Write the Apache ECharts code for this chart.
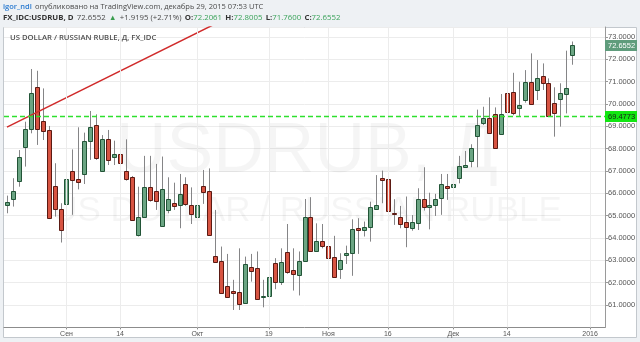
<!DOCTYPE html>
<html><head><meta charset="utf-8">
<script src="https://cdn.jsdelivr.net/npm/echarts@6/dist/echarts.min.js"></script>
<style>html,body{margin:0;padding:0;background:#eef1f4;}#c{width:640px;height:342px;}</style>
</head><body><div id="c"></div>
<script>
// Trading days (MM-DD), Aug 18 2015 .. Jan 5 2016 (last 5 are empty future slots)
const dates = [
'08-18','08-19','08-20','08-21','08-24','08-25','08-26','08-27','08-28','08-31',
'09-01','09-02','09-03','09-04','09-07','09-08','09-09','09-10','09-11','09-14',
'09-15','09-16','09-17','09-18','09-21','09-22','09-23','09-24','09-25','09-28',
'09-29','09-30','10-01','10-02','10-05','10-06','10-07','10-08','10-09','10-12',
'10-13','10-14','10-15','10-16','10-19','10-20','10-21','10-22','10-23','10-26',
'10-27','10-28','10-29','10-30','11-02','11-03','11-04','11-05','11-06','11-09',
'11-10','11-11','11-12','11-13','11-16','11-17','11-18','11-19','11-20','11-23',
'11-24','11-25','11-26','11-27','11-30','12-01','12-02','12-03','12-04','12-07',
'12-08','12-09','12-10','12-11','12-14','12-15','12-16','12-17','12-18','12-21',
'12-22','12-23','12-24','12-25','12-28','12-29','12-30','12-31','01-01','01-04','01-05'];
const opens = [65.48,65.75,66.53,68.09,68.87,70.75,69.26,68.84,66.33,65.29,
65.53,67.02,66.63,66.87,68.35,69.06,66.97,68.42,67.62,67.77,
66.99,66.72,64.11,64.96,66.30,66.12,64.54,65.23,65.59,65.48,
66.42,65.48,64.96,66.33,66.12,63.20,62.99,61.87,61.65,61.60,
61.08,62.69,62.65,61.37,61.38,62.87,62.01,63.37,62.57,62.35,
62.99,64.96,63.44,63.89,63.66,63.17,62.60,63.25,63.32,64.45,
64.33,64.51,65.30,66.68,66.65,65.11,64.96,64.72,64.48,64.69,
65.74,65.38,65.48,65.78,66.35,66.27,66.68,67.20,67.42,68.57,
69.17,69.39,69.55,68.64,70.48,70.52,69.81,70.21,71.00,70.63,
71.25,70.93,70.03,70.21,70.48,72.2061];
const closes = [65.63,66.11,67.62,68.88,70.48,68.87,68.81,64.89,65.29,64.34,
66.63,66.60,66.50,68.36,68.99,67.57,68.42,67.50,67.77,67.35,
66.63,64.81,64.93,66.30,65.74,65.68,66.18,65.74,65.47,65.96,
65.51,65.07,65.48,66.08,64.14,62.92,61.57,61.38,61.57,61.08,
62.83,62.50,61.26,61.39,62.25,62.01,62.92,62.47,62.40,62.99,
64.96,63.44,63.87,63.65,63.14,62.28,63.02,63.32,64.39,64.36,
64.48,65.41,65.48,66.60,65.23,65.05,64.66,64.48,64.74,65.75,
65.38,65.47,65.74,66.41,66.27,66.42,67.23,67.27,68.02,69.06,
69.39,68.72,68.02,69.55,69.61,69.58,69.96,71.00,70.03,71.15,
70.93,69.46,69.58,70.48,70.74,72.6552];
const lows = [65.11,65.41,66.30,67.20,68.69,68.17,68.39,64.85,64.96,63.80,
62.65,65.04,66.18,66.42,67.50,67.50,66.97,67.27,67.27,67.02,
66.57,64.78,64.07,64.93,65.63,65.26,64.51,65.11,65.26,64.44,
65.44,64.63,64.74,65.53,64.10,62.90,61.55,61.36,60.78,60.78,
61.05,62.05,61.24,60.90,61.01,61.71,61.90,62.40,61.65,61.43,
62.95,63.40,63.40,63.54,62.87,62.26,62.17,62.84,62.31,63.29,
64.07,63.84,65.26,65.56,65.11,64.59,64.44,63.59,64.33,64.36,
65.23,64.39,64.99,65.04,65.71,66.08,66.45,67.17,67.17,67.17,
69.06,68.70,68.00,68.62,69.06,69.50,69.46,70.06,70.00,70.18,
70.63,69.44,68.54,68.99,69.58,71.76];
const highs = [65.90,66.68,67.94,69.21,71.57,71.49,70.70,69.02,67.35,65.56,
67.05,67.97,68.96,68.72,69.69,69.54,68.61,68.84,68.36,68.09,
68.42,66.78,66.30,67.68,67.68,67.32,67.65,66.72,66.48,66.87,
66.72,66.27,66.60,67.05,67.12,65.26,63.62,63.29,62.13,63.54,
63.17,63.29,63.40,62.13,62.50,63.10,63.54,64.63,63.54,63.40,
65.75,65.83,64.66,64.63,64.59,64.10,63.32,63.66,64.84,64.89,
64.74,65.63,66.82,67.02,67.91,65.74,65.44,65.86,65.03,66.23,
67.17,66.03,65.98,66.87,66.87,66.87,67.68,67.90,68.20,69.75,
69.88,70.30,69.85,70.45,71.37,71.40,71.00,71.52,72.27,71.97,
71.82,71.15,70.75,70.93,72.39,72.8005];
const trendLine = [[0, 68.97], [40, 74.25]];
const supportLevel = 69.4773;
const lastPrice = 72.6552;
const tickDates = ['09-01','09-14','10-01','10-19','11-02','11-16','12-01','12-14','01-01'];
const tickLabels = ['Сен','14','Окт','19','Ноя','16','Дек','14','2016'];

const candleData = opens.map((o, i) => [i, o, closes[i], lows[i], highs[i]]);
const levelData = [[supportLevel, 0], [lastPrice, 1]];
const tickMap = {};
tickDates.forEach((d, k) => { tickMap[d] = tickLabels[k]; });

const chart = echarts.init(document.getElementById('c'), null, {renderer: 'canvas'});
const F = '"Open Sans", "Liberation Sans", sans-serif';
const A = '"Liberation Sans", Arial, sans-serif';
chart.setOption({
  animation: false,
  backgroundColor: 'transparent',
  grid: {left: 4, right: 35, top: 27, bottom: 14.6, containLabel: false},
  xAxis: {
    type: 'category', data: dates, boundaryGap: true,
    axisLine: {show: true, lineStyle: {color: '#8c8c8c', width: 1}},
    axisTick: {show: true, alignWithLabel: true, length: 2, lineStyle: {color: '#8c8c8c'},
      interval: (i, v) => tickMap[v] !== undefined},
    axisLabel: {interval: (i, v) => tickMap[v] !== undefined, formatter: v => tickMap[v] || '',
      fontSize: 7, color: '#555', margin: 3, fontFamily: A},
    splitLine: {show: false}
  },
  yAxis: {
    type: 'value', position: 'right', min: 60, max: 73.45, interval: 1, scale: true,
    axisLine: {show: true, lineStyle: {color: '#9a9a9a'}},
    axisTick: {show: true, length: 3, lineStyle: {color: '#9a9a9a'}},
    axisLabel: {formatter: v => v.toFixed(4), fontSize: 7.5, color: '#555', margin: 3,
      showMinLabel: false, showMaxLabel: false, fontFamily: A},
    splitLine: {show: true, lineStyle: {color: '#ececec', width: 1}}
  },
  graphic: [
    {type: 'rect', z: -10, shape: {x: 3.5, y: 27.5, width: 633, height: 310},
      style: {fill: '#ffffff', stroke: '#c3c8cd', lineWidth: 1}},
    {type: 'text', z: 1, x: 307, y: 153, style: {text: 'USDRUB, Д', font: '70px ' + A,
      fill: 'rgba(0,0,0,0.04)', textAlign: 'center', textVerticalAlign: 'middle'}},
    {type: 'text', z: 1, x: 307, y: 211, style: {text: 'US DOLLAR / RUSSIAN RUBLE', font: '35px ' + A,
      fill: 'rgba(0,0,0,0.04)', textAlign: 'center', textVerticalAlign: 'middle'}},
    {type: 'text', z: 10, x: 3, y: 7, style: {
      text: '{u|igor_ndl} {t|опубликовано на TradingView.com, декабрь 29, 2015 07:53 UTC}',
      textVerticalAlign: 'middle',
      rich: {u: {fill: '#2b7bd0', font: '600 7.5px ' + F}, t: {fill: '#4a4a4a', font: '7.5px ' + F}}}},
    {type: 'text', z: 10, x: 3, y: 18, style: {
      text: '{b|FX_IDC:USDRUB, D} {t|72.6552} {g|▲} {t|+1.9195 (+2.71%)} {b|O:}{v|72.2061} {b|H:}{v|72.8005} {b|L:}{v|71.7600} {b|C:}{v|72.6552}',
      textVerticalAlign: 'middle',
      rich: {b: {fill: '#333', font: '700 7.8px ' + F}, t: {fill: '#4a4a4a', font: '7.8px ' + F},
        g: {fill: '#3a9d4f', font: '7.5px ' + F}, v: {fill: '#3aa35a', font: '7.8px ' + F}}}},
    {type: 'text', z: 10, x: 10, y: 38, style: {text: 'US DOLLAR / RUSSIAN RUBLE, Д, FX_IDC',
      font: '600 7.7px ' + F, fill: '#505050', textVerticalAlign: 'middle'}}
  ],
  series: [
    {
      name: 'vgrid', type: 'line', data: [], z: 0, silent: true,
      markLine: {symbol: 'none', silent: true, label: {show: false},
        lineStyle: {color: '#ececec', type: 'solid', width: 1},
        data: tickDates.map(d => ({xAxis: d}))}
    },
    {
      name: 'USDRUB', type: 'custom', z: 3, clip: true,
      data: candleData,
      encode: {x: 0, y: [1, 2, 3, 4]},
      renderItem: function (params, api) {
        const i = api.value(0), o = api.value(1), c = api.value(2), l = api.value(3), h = api.value(4);
        const pO = api.coord([i, o]), pC = api.coord([i, c]), pL = api.coord([i, l]), pH = api.coord([i, h]);
        const cx = Math.round(pO[0]) + 0.5;
        const up = c >= o;
        const top = Math.round(Math.min(pO[1], pC[1])) + 0.5;
        let bh = Math.round(Math.abs(pO[1] - pC[1]));
        if (bh < 1) bh = 1;
        return {type: 'group', children: [
          {type: 'line', shape: {x1: cx, y1: pH[1], x2: cx, y2: pL[1]}, style: {stroke: '#858587', lineWidth: 1}},
          {type: 'rect', shape: {x: cx - 2, y: top, width: 4, height: bh},
            style: {fill: up ? '#6ba583' : '#d75442', stroke: up ? '#225437' : '#5b1a13', lineWidth: 1}}
        ]};
      }
    },
    {
      name: 'trend', type: 'line', z: 4, data: trendLine, symbol: 'none', clip: true,
      lineStyle: {color: '#d02a2a', width: 1.5}, silent: true
    },
    {
      name: 'levels', type: 'custom', z: 6, clip: false, silent: true,
      data: levelData,
      encode: {y: 0},
      renderItem: function (params, api) {
        const v = api.value(0), kind = api.value(1);
        const cs = params.coordSys;
        const y = Math.round(api.coord([0, v])[1]) + 0.5;
        const right = cs.x + cs.width;
        const children = [];
        if (kind === 0) {
          children.push({type: 'line', shape: {x1: cs.x, y1: y, x2: right, y2: y},
            style: {stroke: '#2ee02e', lineWidth: 1.3, lineDash: [5, 3]}});
        }
        children.push({type: 'rect', shape: {x: right, y: y - 5.5, width: 32, height: 11},
          style: {fill: kind === 0 ? '#12e612' : '#5f9c7c'}});
        children.push({type: 'text', x: right + 3, y: y + 0.5,
          style: {text: v.toFixed(4), font: '7.5px ' + A, fill: kind === 0 ? '#1a1a1a' : '#ffffff',
            textVerticalAlign: 'middle', textAlign: 'left'}});
        return {type: 'group', children: children};
      }
    }
  ]
});
</script></body></html>
